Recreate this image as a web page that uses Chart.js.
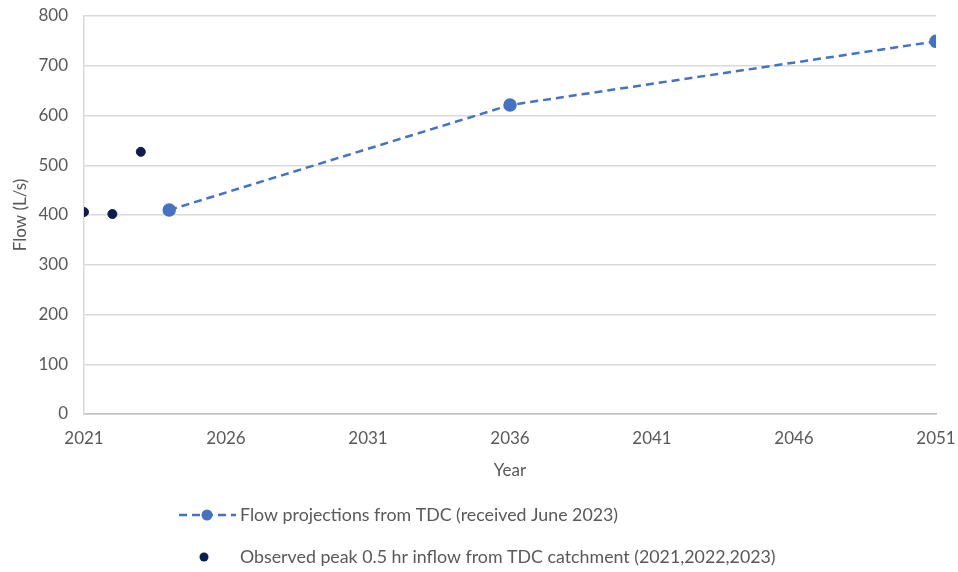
<!DOCTYPE html>
<html>
<head>
<meta charset="utf-8">
<script src="https://cdn.jsdelivr.net/npm/chart.js@4.4.1/dist/chart.umd.min.js"></script>
<style>
  html, body { margin: 0; padding: 0; background: #fff; }
  #wrap { width: 958px; height: 572px; }
</style>
</head>
<body>
<div id="wrap"><canvas id="c" width="958" height="572"></canvas></div>
<script>
// Flow projections supplied by TDC (received June 2023)
const projectionYears = [2024, 2036, 2051];
const projectionFlows = [410, 621, 749];

// Observed peak 0.5 hr inflow from the TDC catchment
const observedYears = [2021, 2022, 2023];
const observedFlows = [406, 402, 527];

// Axis ticks
const yearTicks = [2021, 2026, 2031, 2036, 2041, 2046, 2051];
const flowTicks = [0, 100, 200, 300, 400, 500, 600, 700, 800];

const seriesNames = [
  'Flow projections from TDC (received June 2023)',
  'Observed peak 0.5 hr inflow from TDC catchment (2021,2022,2023)'
];

const FONT = 'Lato, "Open Sans", "Liberation Sans", sans-serif';
const TEXT = '#595959';

// Vertical legend drawn under the plot
const legendBelow = {
  id: 'legendBelow',
  afterDraw(chart) {
    const ctx = chart.ctx;
    const ds = chart.data.datasets;
    ctx.save();
    ctx.font = '17.8px ' + FONT;
    ctx.fillStyle = TEXT;
    ctx.textBaseline = 'middle';
    ctx.textAlign = 'left';
    // row 1: dashed line with a marker
    let y = 515;
    ctx.strokeStyle = ds[0].borderColor;
    ctx.lineWidth = ds[0].borderWidth;
    ctx.setLineDash(ds[0].borderDash);
    ctx.beginPath(); ctx.moveTo(179, y); ctx.lineTo(236, y); ctx.stroke();
    ctx.setLineDash([]);
    ctx.fillStyle = ds[0].pointBackgroundColor;
    ctx.beginPath(); ctx.arc(207, y, ds[0].pointRadius, 0, Math.PI * 2); ctx.fill();
    ctx.fillStyle = TEXT;
    ctx.fillText(ds[0].label, 240, y);
    // row 2: marker only
    y = 557;
    ctx.fillStyle = ds[1].pointBackgroundColor;
    ctx.beginPath(); ctx.arc(204, y, ds[1].pointRadius, 0, Math.PI * 2); ctx.fill();
    ctx.fillStyle = TEXT;
    ctx.fillText(ds[1].label, 240, y);
    ctx.restore();
  }
};

new Chart(document.getElementById('c'), {
  type: 'line',
  data: {
    datasets: [
      {
        label: seriesNames[0],
        data: projectionYears.map((x, i) => ({ x, y: projectionFlows[i] })),
        borderColor: '#4472C4',
        backgroundColor: '#4472C4',
        pointBackgroundColor: '#4472C4',
        pointBorderColor: '#4472C4',
        borderWidth: 2.5,
        borderDash: [8, 5],
        pointRadius: 5.5,
        tension: 0
      },
      {
        label: seriesNames[1],
        data: observedYears.map((x, i) => ({ x, y: observedFlows[i] })),
        showLine: false,
        borderColor: '#0B1D51',
        backgroundColor: '#0B1D51',
        pointBackgroundColor: '#0B1D51',
        pointBorderColor: '#0B1D51',
        pointRadius: 4.5
      }
    ]
  },
  options: {
    responsive: false,
    animation: false,
    layout: { autoPadding: false, padding: { left: 0, top: 16, right: 22, bottom: 90 } },
    plugins: { legend: { display: false }, tooltip: { enabled: false } },
    scales: {
      x: {
        type: 'linear',
        min: 2021,
        max: 2051,
        afterBuildTicks(scale) { scale.ticks = yearTicks.map(v => ({ value: v })); },
        afterFit(scale) {
          scale.height = 68;
          scale.paddingLeft = 0;
          scale.paddingRight = 20;
        },
        grid: { display: false, drawTicks: false },
        border: { display: true, color: '#BFBFBF', width: 1.5 },
        ticks: {
          color: TEXT, font: { family: FONT, size: 17 }, padding: 14,
          maxRotation: 0, callback: v => String(v)
        },
        title: {
          display: true, text: 'Year', color: TEXT,
          font: { family: FONT, size: 17 }, padding: { top: 0, bottom: 1 }
        }
      },
      y: {
        min: 0,
        max: 800,
        afterBuildTicks(scale) { scale.ticks = flowTicks.map(v => ({ value: v })); },
        afterFit(scale) {
          scale.width = 84;
          scale.paddingTop = 10;
          scale.paddingBottom = 0;
        },
        grid: { color: '#D9D9D9', lineWidth: 1.5, drawTicks: false },
        border: { display: true, color: '#D9D9D9', width: 1.5 },
        ticks: { color: TEXT, font: { family: FONT, size: 17 }, padding: 16 },
        title: {
          display: true, text: 'Flow (L/s)', color: TEXT,
          font: { family: FONT, size: 17 }, padding: { top: 10, bottom: 0 }
        }
      }
    }
  },
  plugins: [legendBelow]
});
</script>
</body>
</html>
